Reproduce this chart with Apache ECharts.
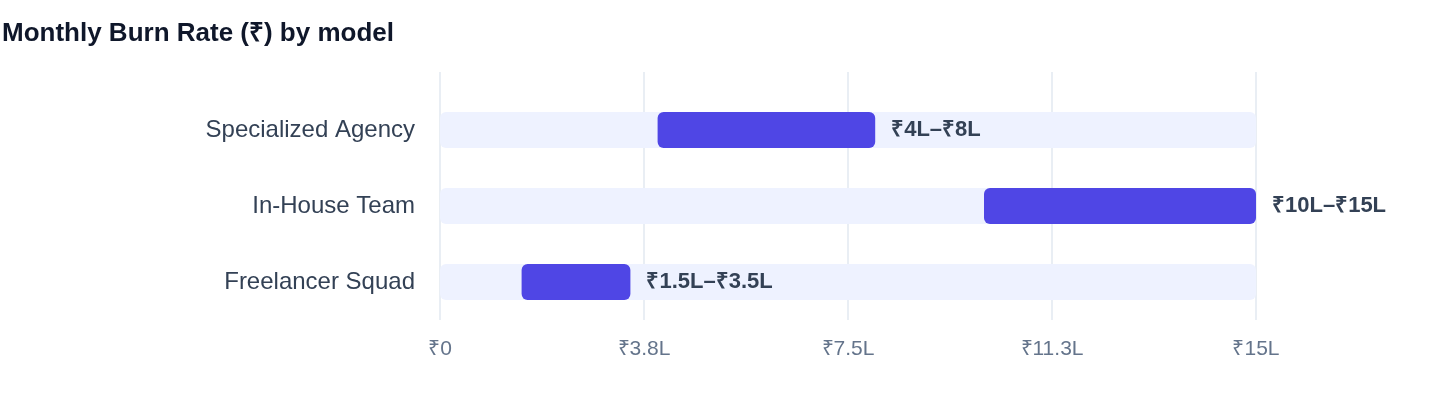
<!DOCTYPE html>
<html>
<head>
  <meta charset="utf-8">
  <title>Monthly Burn Rate</title>
  <script src="https://cdn.jsdelivr.net/npm/echarts@6/dist/echarts.min.js"></script>
</head>
<style>
  html,
  body {
    height: 100%;
    margin: 0;
    padding: 0;
    background: #fff;
  }
</style>

<body>
  <div id="chart" style="width: 1440px; height: 408px;"></div>
  <script>
    // data (lakh rupees)
    const models = ['Freelancer Squad', 'In-House Team', 'Specialized Agency'];
    const lowValues = [1.5, 10, 4];
    const highValues = [3.5, 15, 8];
    const rangeLabels = ['₹1.5L–₹3.5L', '₹10L–₹15L', '₹4L–₹8L'];
    const scaleMax = 15;
    const tickValues = [0, 3.75, 7.5, 11.25, 15];
    const tickLabels = ['₹0', '₹3.8L', '₹7.5L', '₹11.3L', '₹15L'];

    const font = '"Liberation Sans", Arial, Helvetica, sans-serif';

    const chart = echarts.init(document.getElementById('chart'));
    chart.setOption({
      title: {
        text: 'Monthly Burn Rate (₹) by model',
        left: -3,
        top: 16,
        textStyle: { fontFamily: font, fontSize: 26, fontWeight: 'bold', color: '#0f172a' }
      },
      grid: [
        // grid 0 only carries the x axis + vertical grid lines
        { left: 440, right: 184, top: 72, bottom: 88 },
        // grid 1 holds the bars
        { left: 440, right: 184, top: 92, bottom: 88 }
      ],
      xAxis: [{
        gridIndex: 0,
        type: 'value',
        min: 0,
        max: scaleMax,
        interval: 3.75,
        axisLine: { show: false },
        axisTick: { show: false },
        splitLine: { lineStyle: { color: '#e2e8f0', width: 1.5 } },
        axisLabel: {
          margin: 19,
          fontFamily: font,
          fontSize: 21,
          color: '#64748b',
          formatter: v => tickLabels[tickValues.indexOf(v)] ?? ''
        }
      }, {
        gridIndex: 1,
        type: 'value',
        min: 0,
        max: scaleMax,
        show: false
      }],
      yAxis: [{
        gridIndex: 0,
        type: 'value',
        show: false
      }, {
        gridIndex: 1,
        type: 'category',
        data: models,
        axisLine: { show: false },
        axisTick: { show: false },
        splitLine: { show: false },
        axisLabel: { margin: 25, fontFamily: font, fontSize: 24, color: '#334155' }
      }],
      series: [{
        // light full-range track
        type: 'bar',
        xAxisIndex: 1,
        yAxisIndex: 1,
        data: models.map(() => scaleMax),
        barWidth: 36,
        barGap: '-100%',
        silent: true,
        itemStyle: { color: '#eef2ff', borderRadius: 6 },
        z: 1
      }, {
        type: 'bar',
        xAxisIndex: 1,
        yAxisIndex: 1,
        stack: 'range',
        data: lowValues,
        barWidth: 36,
        itemStyle: { color: 'transparent' },
        z: 2
      }, {
        type: 'bar',
        xAxisIndex: 1,
        yAxisIndex: 1,
        stack: 'range',
        data: highValues.map((h, i) => h - lowValues[i]),
        barWidth: 36,
        itemStyle: { color: '#4f46e5', borderRadius: 6 },
        label: {
          show: true,
          position: 'right',
          distance: 16,
          fontFamily: font,
          fontSize: 22,
          fontWeight: 'bold',
          color: '#334155',
          formatter: p => rangeLabels[p.dataIndex]
        },
        z: 3
      }]
    });
  </script>
</body>
</html>
